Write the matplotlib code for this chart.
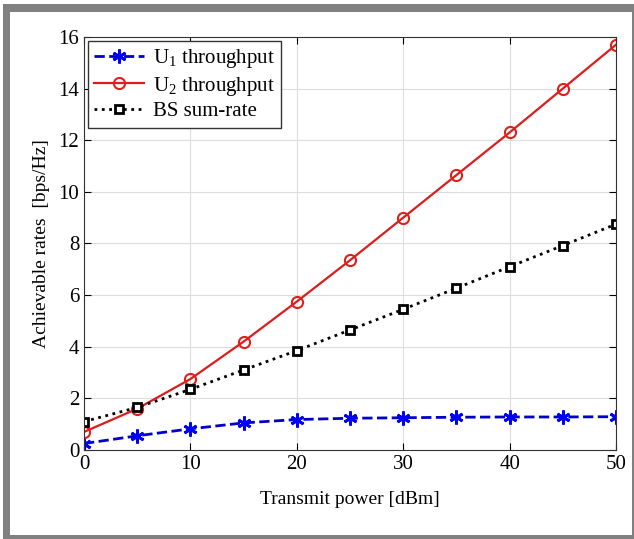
import matplotlib
matplotlib.use("Agg")
import matplotlib.pyplot as plt
from matplotlib.patches import Rectangle

plt.rcParams['font.family'] = ['Liberation Serif', 'DejaVu Serif']
plt.rcParams['mathtext.fontset'] = 'custom'
plt.rcParams['mathtext.rm'] = 'Liberation Serif'

power_dbm = [0, 5, 10, 15, 20, 25, 30, 35, 40, 45, 50]
u1_rate = [0.25, 0.55, 0.82, 1.05, 1.18, 1.23, 1.25, 1.27, 1.28, 1.28, 1.29]
u2_rate = [0.70, 1.60, 2.75, 4.20, 5.75, 7.35, 9.00, 10.65, 12.30, 14.00, 15.70]
bs_sum_rate = [1.10, 1.65, 2.35, 3.10, 3.85, 4.65, 5.45, 6.27, 7.10, 7.92, 8.75]

x_ticks = [0, 10, 20, 30, 40, 50]
y_ticks = [0, 2, 4, 6, 8, 10, 12, 14, 16]


def main():
    fig = plt.figure(figsize=(6.34, 5.39), dpi=100)

    # gray picture frame around the figure
    fig.patches.append(Rectangle((0.005, 0.0), 0.995, 0.993, transform=fig.transFigure,
                                 facecolor='#808080', edgecolor='none', zorder=-10))
    fig.patches.append(Rectangle((0.016, 0.008), 0.981, 0.970, transform=fig.transFigure,
                                 facecolor='white', edgecolor='none', zorder=-9))

    ax = fig.add_axes([0.1325, 0.1651, 0.8391, 0.7663])

    ax.plot(power_dbm, u1_rate, color='#0000c8', ls='--', lw=2, marker=(6, 2, 0),
            ms=10, mec='blue', mfc='blue', mew=2, label=r'U$_1$ throughput')
    ax.plot(power_dbm, u2_rate, color='#dd1c1c', ls='-', lw=1.6, marker='o',
            ms=8, mfc='none', mec='#e0201a', mew=1.5, label=r'U$_2$ throughput')
    ax.plot(power_dbm, bs_sum_rate, color='black', ls=':', lw=2, marker='s',
            ms=6, mfc='white', mec='black', mew=2, label='BS sum-rate')

    ax.set_xlim(0, 50)
    ax.set_ylim(0, 16)
    ax.set_xticks(x_ticks)
    ax.set_yticks(y_ticks)
    ax.tick_params(direction='in', top=True, right=True, labelsize=15, length=5)
    ax.grid(True, color='#dddddd', lw=0.8)
    ax.set_axisbelow(True)
    for s in ax.spines.values():
        s.set_color('#333333')

    ax.set_xlabel('Transmit power [dBm]', fontsize=14, labelpad=12)
    ax.set_ylabel('Achievable rates  [bps/Hz]', fontsize=14, labelpad=6)

    leg = ax.legend(loc='upper left', fontsize=15, fancybox=False, framealpha=1,
                    edgecolor='#333333', borderaxespad=0.2, handlelength=2.4,
                    labelspacing=0.2, borderpad=0.3, handletextpad=0.4)
    leg.get_frame().set_linewidth(1.0)

    fig.savefig('out.png', dpi=100)


if __name__ == "__main__":
    main()
